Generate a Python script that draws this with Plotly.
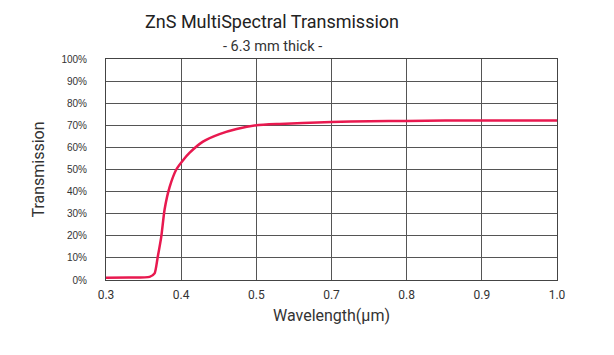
import plotly.graph_objects as go

# x positions on the chart's evenly spaced wavelength scale (0.3 .. 0.9 axis units)
wavelength_pos = [0.300, 0.330, 0.358, 0.3646, 0.3686, 0.3735, 0.378, 0.3846, 0.3935, 0.402,
                  0.411, 0.4285, 0.451, 0.4738, 0.500, 0.531, 0.5617, 0.600, 0.651, 0.700,
                  0.800, 0.900]
transmission = [1.0, 1.1, 1.4, 3.0, 10.0, 19.5, 32.0, 42.0, 50.0, 54.0,
                57.5, 62.5, 66.0, 68.3, 70.0, 70.6, 71.0, 71.5, 71.8, 72.0,
                72.2, 72.2]

x_tickvals = [0.3, 0.4, 0.5, 0.6, 0.7, 0.8, 0.9]
x_ticktext = ["0.3", "0.4", "0.5", "0.7", "0.8", "0.9", "1.0"]
y_tickvals = [0, 10, 20, 30, 40, 50, 60, 70, 80, 90, 100]
y_ticktext = [f"{v}%" for v in y_tickvals]

fig = go.Figure()
fig.add_trace(go.Scatter(
    x=wavelength_pos, y=transmission, mode="lines",
    line=dict(color="#E8194F", width=2.5, shape="spline", smoothing=0.6),
    hoverinfo="skip", showlegend=False,
))

fig.update_layout(
    width=606, height=347,
    margin=dict(l=98, r=57, t=51, b=75),
    paper_bgcolor="white", plot_bgcolor="white",
    font=dict(family="Roboto, sans-serif", color="#333"),
    annotations=[
        dict(text="ZnS MultiSpectral Transmission", xref="paper", yref="paper",
             x=(264 - 98) / 451, y=1, yshift=59 - 21, xanchor="center", yanchor="middle",
             showarrow=False, font=dict(size=18, color="#222", family="Roboto, sans-serif")),
        dict(text="- 6.3 mm thick -", xref="paper", yref="paper",
             x=(264 - 98) / 451, y=1, yshift=59 - 46, xanchor="center", yanchor="middle",
             showarrow=False, font=dict(size=14.5, color="#333", family="Roboto, sans-serif")),
    ],
)

fig.update_xaxes(
    range=[0.3, 0.9], tickvals=x_tickvals, ticktext=x_ticktext,
    showgrid=True, gridcolor="#555", gridwidth=1,
    showline=True, linecolor="#444", linewidth=1, mirror=True,
    zeroline=False,
    ticks="outside", ticklen=4, tickcolor="rgba(0,0,0,0)",
    tickfont=dict(size=12, color="#333", family="Roboto, sans-serif"),
    title=dict(text="Wavelength(μm)", font=dict(size=16, color="#333"), standoff=8),
)
fig.update_yaxes(
    range=[0, 100], tickvals=y_tickvals, ticktext=y_ticktext,
    showgrid=True, gridcolor="#555", gridwidth=1,
    showline=True, linecolor="#444", linewidth=1, mirror=True,
    zeroline=False,
    ticks="outside", ticklen=16, tickcolor="rgba(0,0,0,0)",
    tickfont=dict(size=10, color="#333", family="Arial, Liberation Sans, sans-serif"),
    title=dict(text="Transmission", font=dict(size=16, color="#333"), standoff=12),
)

fig.write_html("out.html")
